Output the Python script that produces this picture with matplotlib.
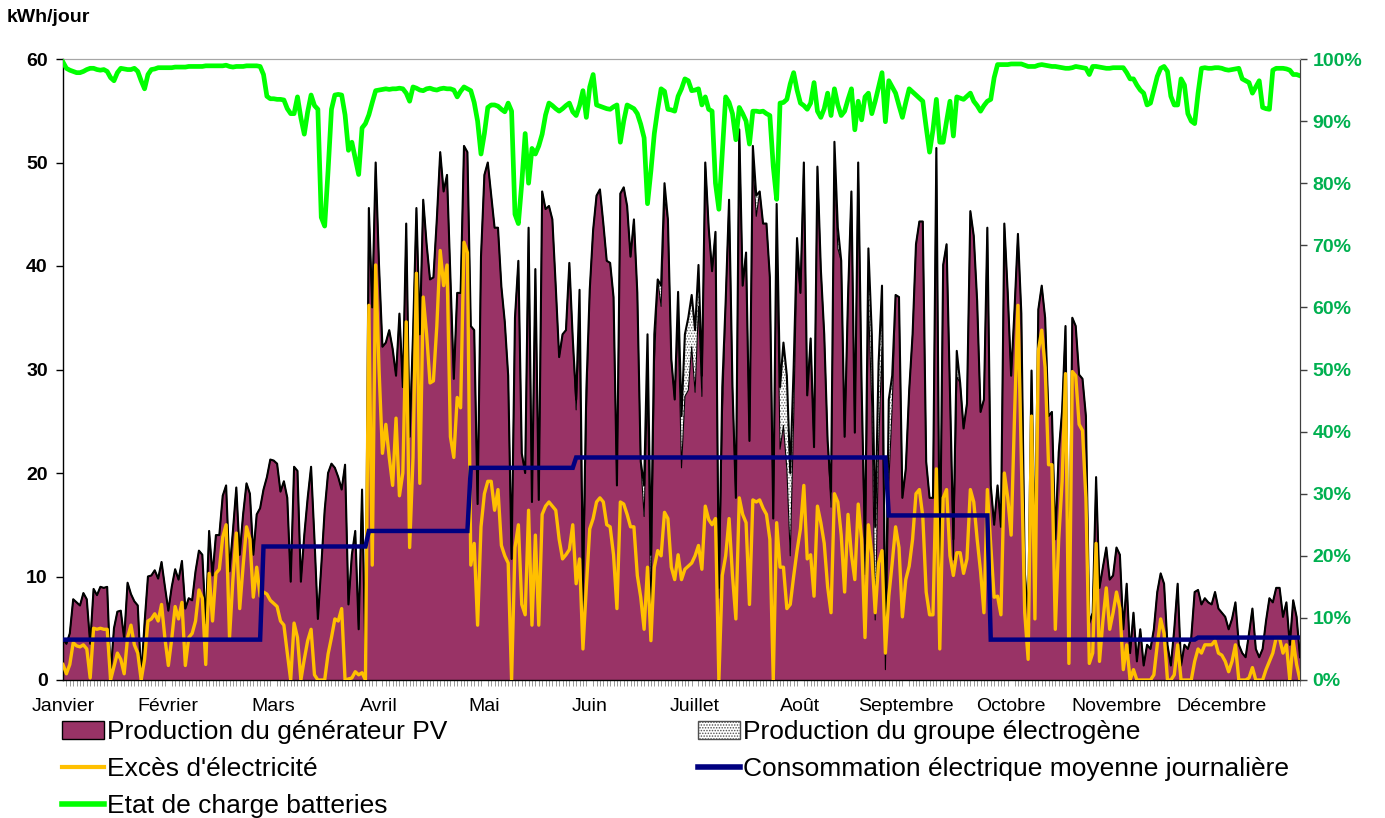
import numpy as np
import matplotlib
matplotlib.use("Agg")
import matplotlib.pyplot as plt
from matplotlib.patches import Patch
from matplotlib.lines import Line2D

plt.rcParams['font.family'] = ['Liberation Sans', 'DejaVu Sans']
plt.rcParams['hatch.linewidth'] = 0.7

# ---------------- data ----------------
month_names = ["Janvier", "Février", "Mars", "Avril", "Mai", "Juin", "Juillet",
               "Août", "Septembre", "Octobre", "Novembre", "Décembre"]
month_days = [31, 28, 31, 30, 31, 30, 31, 31, 30, 31, 30, 31]
label_days = [0, 31, 62, 93, 124, 155, 186, 217, 248, 279, 310, 341]

# mean daily consumption per month (kWh/jour)
conso_mensuelle = [3.9, 3.9, 12.9, 14.4, 20.5, 21.5, 21.5, 21.5, 15.9, 3.9, 3.9, 4.1]

# total daily production (PV + genset), kWh/jour
production_totale = (
    [4.0, 3.5, 4.5, 7.8, 7.5, 7.2, 8.4, 7.8, 3.5, 8.8, 8.2, 9.0, 8.9, 9.0, 0.5, 5.0, 6.6, 6.7, 4.0, 9.4,
     8.3, 7.6, 7.2, 0.3, 5.5, 10.0, 10.1, 10.6, 9.8, 11.4, 9.0]
    + [6.7, 9.0, 10.7, 9.7, 11.5, 6.9, 7.9, 7.7, 10.5, 12.5, 12.1, 5.5, 14.4, 10.1, 14.0, 14.0, 17.8, 18.8,
       10.5, 14.4, 18.6, 12.1, 16.0, 19.0, 18.0, 12.1, 16.0, 16.6]
    + [18.4, 19.6, 21.3, 21.2, 20.9, 18.2, 19.2, 17.6, 9.5, 20.6, 20.2, 9.5, 14.0, 17.6, 20.6, 13.6, 5.9,
       11.0, 16.4, 20.0, 20.9, 20.5, 19.6, 18.4, 20.8, 7.3, 12.1, 14.4, 4.9, 18.4, 2.0]
    + [45.6, 36.0, 50.0, 40.0, 32.2, 32.6, 33.8, 32.0, 29.4, 35.4, 28.3, 44.1, 23.5, 33.4, 45.6, 33.4, 46.4,
       42.1, 38.7, 38.9, 44.5, 51.0, 47.2, 48.8, 38.9, 29.1, 37.4, 37.4, 51.6, 51.0]
    + [34.2, 33.8, 17.0, 40.9, 48.8, 50.0, 46.8, 43.7, 43.7, 38.0, 34.6, 29.4, 11.7, 35.0, 40.5, 21.9, 20.0,
       43.7, 17.2, 39.7, 17.4, 47.2, 45.5, 45.8, 44.5, 38.0, 31.2, 33.4, 33.8, 40.3, 33.0]
    + [27.1, 37.7, 9.7, 28.0, 37.7, 43.5, 46.8, 47.4, 44.1, 40.5, 40.3, 37.0, 18.8, 47.0, 47.6, 45.8, 40.9,
       44.5, 37.4, 21.1, 18.8, 33.4, 12.1, 33.4, 38.7, 38.1, 48.0, 44.5, 31.0, 27.1]
    + [37.5, 25.5, 33.4, 35.0, 37.2, 33.8, 40.1, 29.4, 50.0, 43.7, 39.5, 43.3, 8.9, 28.3, 36.6, 46.4, 28.3,
       17.6, 53.2, 38.1, 41.3, 23.1, 51.6, 46.8, 47.2, 44.1, 44.1, 38.9, 15.6, 46.0, 28.3]
    + [32.6, 29.4, 20.0, 30.2, 42.7, 37.4, 50.0, 27.5, 33.0, 22.5, 49.6, 39.7, 33.4, 23.1, 18.2, 52.0, 43.7,
       40.5, 23.5, 37.0, 47.2, 23.9, 50.0, 28.3, 13.2, 41.7, 33.4, 14.8, 30.6, 38.1, 3.0]
    + [27.1, 29.4, 37.2, 37.0, 17.6, 20.4, 28.0, 33.4, 42.1, 44.3, 44.3, 21.1, 17.6, 17.6, 51.4, 10.0, 40.1,
       42.1, 28.0, 13.6, 31.8, 28.7, 24.3, 26.7, 45.3, 42.9, 36.6, 25.9, 27.1, 43.7]
    + [18.8, 15.0, 18.8, 14.8, 44.1, 37.4, 29.4, 35.8, 43.1, 35.4, 10.5, 6.1, 29.9, 12.0, 35.8, 38.1, 35.0,
       25.5, 25.9, 13.6, 22.0, 26.0, 34.2, 5.5, 35.0, 34.2, 29.5, 29.1, 25.5, 5.5, 6.5]
    + [19.6, 8.9, 10.9, 12.8, 9.7, 10.1, 12.8, 12.1, 4.9, 9.3, 2.6, 6.5, 1.8, 4.9, 1.4, 3.4, 3.0, 4.9, 8.5,
       10.3, 9.3, 3.4, 1.4, 4.9, 9.3, 1.4, 3.4, 3.0, 4.1, 8.5]
    + [8.7, 7.3, 7.9, 7.5, 7.3, 8.5, 6.9, 6.5, 6.1, 4.9, 5.9, 7.5, 3.4, 2.6, 2.2, 4.5, 6.9, 3.0, 2.2, 3.0,
       5.7, 7.9, 7.5, 8.9, 8.9, 6.1, 7.5, 3.4, 7.7, 6.1, 2.2]
)

# genset production (day index, kWh)
genset_days = [151, 152, 153, 154, 171, 172, 173, 174, 176, 177, 181, 182, 183, 184, 185, 186, 187, 188,
               193, 194, 203, 204, 210, 211, 212, 213, 214, 215, 216, 226, 227, 228, 236, 237, 238, 239,
               240, 241, 242, 243, 244, 258, 262, 263]
genset_kwh = [1.0, 3.0, 4.0, 2.0, 3.0, 5.0, 6.0, 3.0, 2.0, 1.5, 3.0, 5.0, 6.0, 7.0, 5.0, 6.0, 4.0, 2.0,
              1.0, 3.0, 1.5, 2.0, 3.0, 6.0, 8.0, 9.0, 8.0, 5.0, 2.0, 1.5, 2.5, 2.0, 3.0, 5.0, 7.0, 9.0,
              8.0, 6.0, 2.0, 8.0, 3.0, 2.0, 2.0, 2.5]

# excess electricity, kWh/jour
exces = (
    [1.5, 0.6, 1.5, 3.6, 3.3, 3.2, 3.4, 3.0, 0.2, 5.0, 4.9, 5.0, 4.9, 4.9, 0.0, 1.3, 2.6, 2.0, 0.6, 4.1,
     5.3, 3.4, 2.6, 0.0, 2.0, 5.7, 5.9, 6.4, 5.7, 7.3, 4.0]
    + [1.4, 4.0, 7.1, 5.9, 7.5, 1.4, 4.1, 4.5, 5.7, 8.7, 7.9, 1.5, 10.3, 5.7, 10.3, 10.7, 13.8, 15.0, 4.1,
       9.7, 14.2, 6.9, 11.0, 14.8, 13.6, 8.0, 10.9, 8.1]
    + [8.5, 8.3, 7.7, 7.4, 7.1, 5.7, 5.3, 2.6, 0.0, 5.5, 4.1, 0.0, 2.0, 3.8, 4.9, 0.5, 0.0, 0.0, 0.0, 2.5,
       4.1, 5.9, 5.7, 6.9, 0.0, 0.1, 0.2, 0.8, 0.5, 0.7, 0.0]
    + [36.2, 11.1, 40.1, 30.0, 21.9, 24.7, 21.5, 18.8, 25.3, 17.8, 20.0, 34.6, 12.8, 21.5, 39.3, 19.0, 37.0,
       33.4, 28.7, 28.9, 34.2, 41.5, 38.1, 40.1, 23.5, 21.5, 27.3, 26.3, 42.3, 41.3]
    + [11.1, 13.2, 5.3, 14.8, 18.0, 19.2, 19.2, 16.4, 18.4, 13.0, 12.0, 11.3, 0.0, 12.8, 15.0, 7.3, 6.3,
       16.4, 5.3, 14.0, 5.3, 16.0, 16.8, 17.2, 16.8, 16.4, 13.6, 11.7, 12.1, 12.6, 15.0]
    + [9.3, 11.7, 3.0, 9.0, 14.6, 15.6, 17.2, 17.6, 17.2, 15.0, 14.8, 12.1, 6.9, 17.2, 17.0, 16.0, 14.8,
       14.8, 10.1, 8.0, 4.9, 10.9, 3.8, 10.9, 12.5, 12.0, 16.2, 15.6, 10.9, 9.7]
    + [12.1, 9.7, 10.7, 11.0, 11.3, 12.0, 13.0, 10.7, 16.8, 15.5, 15.0, 15.6, 0.0, 10.1, 12.0, 15.6, 10.1,
       5.9, 17.6, 16.0, 15.2, 7.3, 17.4, 17.2, 17.4, 16.6, 16.0, 13.6, 0.0, 15.2, 10.9]
    + [10.9, 6.9, 7.3, 10.0, 12.5, 14.6, 18.8, 11.7, 12.1, 8.1, 16.8, 15.2, 13.2, 9.0, 6.5, 18.0, 17.2,
       14.0, 8.5, 16.0, 12.1, 9.7, 17.0, 13.6, 4.1, 15.0, 12.1, 6.5, 11.3, 12.5, 2.6]
    + [8.1, 11.3, 14.8, 12.8, 6.1, 9.7, 11.0, 13.6, 18.0, 18.4, 15.8, 8.5, 6.3, 6.3, 20.4, 3.0, 17.6, 18.4,
       12.0, 10.1, 12.3, 12.3, 10.3, 11.7, 18.4, 17.2, 13.6, 10.5, 6.5, 18.4]
    + [13.0, 8.0, 8.1, 6.3, 20.0, 17.6, 14.0, 25.5, 36.2, 21.5, 6.5, 2.0, 25.5, 5.9, 31.8, 33.8, 30.2,
       20.8, 20.8, 4.9, 13.6, 19.2, 29.6, 1.6, 29.8, 29.4, 24.7, 24.1, 17.6, 1.6, 2.6]
    + [13.2, 1.8, 5.7, 8.9, 4.9, 6.5, 8.5, 6.9, 1.0, 3.4, 0.0, 1.0, 0.0, 0.0, 0.0, 0.0, 0.0, 0.5, 3.4, 5.9,
       4.5, 0.0, 0.0, 0.5, 3.4, 0.0, 0.0, 0.0, 0.0, 1.8]
    + [3.0, 2.6, 3.4, 3.4, 3.4, 3.8, 2.6, 2.4, 1.8, 0.8, 1.8, 3.4, 0.0, 0.0, 0.0, 0.2, 1.2, 0.0, 0.0, 0.0,
       1.0, 1.8, 2.6, 4.1, 4.0, 2.6, 3.4, 0.0, 3.8, 1.5, 0.0]
)

# battery state of charge, %
etat_charge = (
    [99.5, 98.5, 98.2, 98.0, 97.8, 97.8, 98.0, 98.3, 98.5, 98.5, 98.3, 98.2, 98.3, 98.0, 97.0, 96.5, 97.8,
     98.5, 98.4, 98.3, 98.3, 98.5, 98.0, 96.5, 95.2, 97.5, 98.3, 98.4, 98.6, 98.6, 98.6]
    + [98.6, 98.6, 98.7, 98.7, 98.7, 98.7, 98.8, 98.8, 98.8, 98.8, 98.8, 98.9, 98.9, 98.9, 98.9, 98.9, 98.9,
       99.0, 98.8, 98.7, 98.8, 98.8, 98.8, 98.9, 98.9, 98.9, 98.9, 98.8]
    + [97.5, 94.0, 93.6, 93.6, 93.5, 93.5, 93.4, 92.0, 91.2, 91.2, 93.9, 90.5, 87.9, 91.5, 94.2, 92.5, 91.9,
       74.5, 73.1, 82.0, 91.9, 94.2, 94.3, 94.2, 91.0, 85.3, 86.6, 84.0, 81.4, 88.9, 89.6]
    + [91.0, 93.0, 94.9, 95.0, 95.1, 95.2, 95.1, 95.2, 95.2, 95.3, 95.2, 94.5, 93.2, 95.5, 95.3, 95.0, 94.9,
       95.2, 95.3, 95.1, 95.0, 95.2, 95.3, 95.2, 95.2, 95.0, 93.9, 94.8, 95.5, 95.2]
    + [94.9, 93.0, 90.0, 84.7, 88.0, 92.2, 92.6, 92.6, 92.4, 91.9, 91.5, 92.9, 91.6, 75.0, 73.5, 80.0, 88.0,
       80.0, 85.6, 84.7, 86.0, 87.9, 91.0, 92.9, 92.5, 92.0, 91.6, 92.0, 92.5, 92.9, 91.5]
    + [90.9, 92.5, 94.9, 90.6, 95.5, 97.5, 92.6, 92.4, 92.2, 92.0, 91.9, 92.3, 92.6, 86.6, 90.0, 92.6, 92.3,
       92.0, 91.2, 89.5, 87.3, 76.7, 82.0, 88.0, 91.9, 95.2, 94.8, 91.9, 91.8, 91.6]
    + [94.0, 95.2, 96.8, 96.5, 94.9, 95.0, 95.2, 92.6, 93.9, 91.9, 91.6, 80.0, 75.8, 85.0, 93.9, 93.0, 91.2,
       87.0, 92.2, 91.2, 90.0, 86.3, 91.6, 91.6, 91.5, 91.6, 91.2, 90.9, 82.7, 77.4, 92.9]
    + [93.0, 93.5, 96.0, 97.8, 95.0, 92.9, 92.5, 91.9, 92.9, 96.2, 91.6, 90.6, 92.0, 94.5, 90.9, 95.2, 92.6,
       90.9, 91.6, 93.5, 95.2, 88.6, 93.2, 90.2, 93.9, 94.5, 91.2, 93.2, 95.5, 97.8, 89.9]
    + [96.5, 95.5, 94.5, 92.5, 90.6, 93.0, 95.2, 94.7, 94.2, 93.7, 93.2, 89.0, 85.0, 88.6, 93.5, 86.6, 86.6,
       90.0, 93.2, 87.6, 93.9, 93.7, 93.5, 94.0, 94.5, 93.2, 92.5, 91.6, 92.5, 93.2]
    + [93.5, 97.0, 99.1, 99.1, 99.1, 99.1, 99.2, 99.2, 99.2, 99.2, 99.0, 98.8, 98.8, 98.8, 99.0, 99.1, 99.0,
       98.9, 98.8, 98.8, 98.7, 98.6, 98.5, 98.5, 98.6, 98.8, 98.7, 98.6, 98.5, 97.5, 98.8]
    + [98.8, 98.7, 98.6, 98.5, 98.5, 98.6, 98.6, 98.6, 98.6, 97.8, 96.8, 96.8, 95.8, 95.0, 94.5, 92.6, 92.9,
       95.0, 97.2, 98.5, 98.8, 98.0, 94.0, 92.6, 92.6, 96.8, 95.8, 91.2, 90.0, 89.6]
    + [94.5, 98.5, 98.6, 98.5, 98.5, 98.6, 98.6, 98.5, 98.3, 98.2, 98.3, 98.4, 98.5, 96.8, 96.5, 96.2, 94.5,
       95.5, 96.5, 92.2, 92.0, 91.9, 98.2, 98.5, 98.5, 98.5, 98.4, 98.2, 97.5, 97.5, 97.3]
)

# ---------------- derived series ----------------
n_days = sum(month_days)
x = np.arange(n_days)
total = np.array(production_totale, dtype=float)
genset = np.zeros(n_days)
genset[genset_days] = genset_kwh
pv = total - genset
conso = np.repeat(conso_mensuelle, month_days)

# ---------------- colours ----------------
C_PV = "#993366"
C_EXC = "#FFC000"
C_CONSO = "#000080"
C_SOC = "#00FF00"
C_SOC_TXT = "#00B050"

W, H = 1385, 818
fig = plt.figure(figsize=(W / 100, H / 100), dpi=100)
L, R, T, B = 63, 1300, 59, 680
ax = fig.add_axes([L / W, 1 - B / H, (R - L) / W, (B - T) / H])

ax.fill_between(x, 0, pv, facecolor=C_PV, edgecolor="none", linewidth=0, zorder=1)
ax.fill_between(x, pv, total, facecolor="white", edgecolor="#707070", hatch="......",
                linewidth=0, zorder=1)
ax.plot(x, pv, color="black", lw=0.8, zorder=2)
ax.plot(x, total, color="black", lw=1.5, zorder=2)
ax.plot(x, exces, color=C_EXC, lw=2.4, zorder=3)
ax.plot(x, conso, color=C_CONSO, lw=3.2, zorder=4, solid_joinstyle="miter")

ax.set_xlim(0, n_days - 1)
ax.set_ylim(0, 60)
ax.set_yticks(range(0, 61, 10))
ax.tick_params(axis="y", which="major", direction="out", length=5, width=1, pad=6,
               labelsize=14)
for t in ax.get_yticklabels():
    t.set_fontweight("bold")

ax.set_xticks(label_days)
ax.set_xticklabels(month_names)
ax.tick_params(axis="x", which="major", length=0, pad=13, labelsize=14)
ax.set_xticks(x, minor=True)
ax.tick_params(axis="x", which="minor", direction="out", length=4, width=0.6,
               color="#8a8a8a")

for s in ["left", "bottom"]:
    ax.spines[s].set_color("black")
    ax.spines[s].set_linewidth(1.0)
ax.spines["top"].set_color("#a6a6a6")
ax.spines["right"].set_color("#404040")

ax2 = ax.twinx()
ax2.plot(x, etat_charge, color=C_SOC, lw=3.4, zorder=5)
ax2.set_ylim(0, 100)
ax2.set_yticks(range(0, 101, 10))
ax2.set_yticklabels([f"{v}%" for v in range(0, 101, 10)])
ax2.tick_params(axis="y", direction="out", length=5, width=1, pad=4, labelsize=14,
                labelcolor=C_SOC_TXT, color="#404040")
for t in ax2.get_yticklabels():
    t.set_fontweight("bold")
ax2.spines["top"].set_color("#a6a6a6")
ax2.spines["right"].set_color("#404040")
ax2.spines["left"].set_visible(False)
ax2.spines["bottom"].set_visible(False)

fig.text(7 / W, 1 - 17 / H, "kWh/jour", fontsize=14, fontweight="bold", va="center", ha="left")

handles = [
    Patch(facecolor=C_PV, edgecolor="black", linewidth=1.0),
    Line2D([], [], color=C_EXC, lw=3),
    Line2D([], [], color=C_SOC, lw=4),
    Patch(facecolor="white", edgecolor="#505050", hatch="......", linewidth=1.0),
    Line2D([], [], color=C_CONSO, lw=4),
]
labels = [
    "Production du générateur PV",
    "Excès d'électricité",
    "Etat de charge batteries",
    "Production du groupe électrogène",
    "Consommation électrique moyenne journalière",
]
fig.legend(handles, labels, ncol=2, loc="upper left",
           bbox_to_anchor=(62 / W, 1 - 720 / H), frameon=False, fontsize=19,
           handlelength=1.6, handleheight=0.7, handletextpad=0.1, columnspacing=9.5,
           labelspacing=0.5, borderpad=0, borderaxespad=0)

fig.savefig("out.png", dpi=100)
